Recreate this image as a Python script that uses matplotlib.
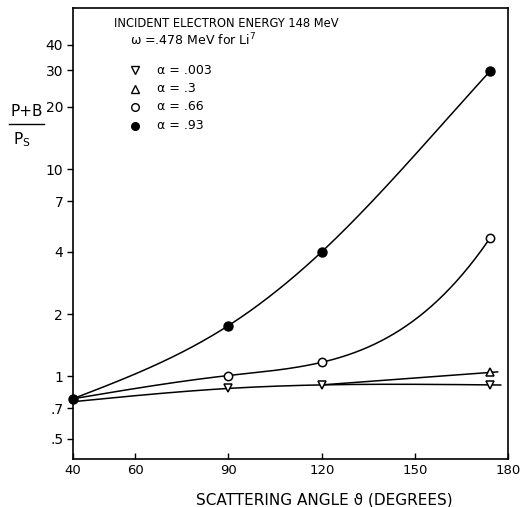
import numpy as np
import matplotlib
matplotlib.use("Agg")
import matplotlib.pyplot as plt
from matplotlib.lines import Line2D

# ---- data ----
angles = [40, 90, 120, 174]
ratio_a003 = [0.755, 0.875, 0.91, 0.91]
angles_a03 = [120, 174]
ratio_a03 = [0.91, 1.045]
ratio_a066 = [0.78, 1.01, 1.17, 4.64]
ratio_a093 = [0.78, 1.76, 4.0, 29.7]

x_ticks = [40, 60, 90, 120, 150, 180]
y_ticks = [0.5, 0.7, 1, 2, 4, 7, 10, 20, 30, 40]
y_tick_labels = [".5", ".7", "1", "2", "4", "7", "10", "20", "30", "40"]
legend_labels = ["α = .003", "α = .3", "α = .66", "α = .93"]


def spline(xk, yk, xe, end_slope=None):
    """Cubic spline; natural at the left, natural or clamped at the right."""
    xk = np.asarray(xk, float)
    yk = np.asarray(yk, float)
    n = len(xk)
    if n == 2:
        s = (yk[1] - yk[0]) / (xk[1] - xk[0])
        return yk[0] + s * (np.asarray(xe) - xk[0])
    h = np.diff(xk)
    A = np.zeros((n, n))
    r = np.zeros(n)
    A[0, 0] = 1
    for i in range(1, n - 1):
        A[i, i - 1] = h[i - 1]
        A[i, i] = 2 * (h[i - 1] + h[i])
        A[i, i + 1] = h[i]
        r[i] = 3 * ((yk[i + 1] - yk[i]) / h[i] - (yk[i] - yk[i - 1]) / h[i - 1])
    if end_slope is None:
        A[-1, -1] = 1
    else:
        A[-1, -2] = h[-1]
        A[-1, -1] = 2 * h[-1]
        r[-1] = 3 * (end_slope - (yk[-1] - yk[-2]) / h[-1])
    c = np.linalg.solve(A, r)
    b = np.zeros(n - 1)
    d = np.zeros(n - 1)
    for i in range(n - 1):
        b[i] = (yk[i + 1] - yk[i]) / h[i] - h[i] * (2 * c[i] + c[i + 1]) / 3
        d[i] = (c[i + 1] - c[i]) / (3 * h[i])
    out = []
    for x in np.asarray(xe, float):
        if x >= xk[-1]:
            i = n - 2
            t = h[i]
            slope = b[i] + 2 * c[i] * t + 3 * d[i] * t * t
            out.append(yk[-1] + slope * (x - xk[-1]))
            continue
        i = min(max(np.searchsorted(xk, x) - 1, 0), n - 2)
        t = x - xk[i]
        out.append(yk[i] + b[i] * t + c[i] * t * t + d[i] * t ** 3)
    return np.array(out)


def smooth(xk, yk, x_end=None, end_slope=None):
    x1 = xk[-1] if x_end is None else x_end
    xe = np.linspace(xk[0], x1, 400)
    ye = 10 ** spline(xk, np.log10(yk), xe, end_slope)
    return xe, ye


fig = plt.figure(figsize=(5.21, 5.07), dpi=100)
ax = fig.add_axes([0.140, 0.095, 0.836, 0.889])
ax.set_yscale("log")
ax.set_xlim(40, 180)
ax.set_ylim(0.40, 60)

lw = 1.1
xe, ye = smooth(angles, ratio_a003, x_end=177.5)
ax.plot(xe, ye, color="black", lw=lw)
xe, ye = smooth(angles_a03, ratio_a03, x_end=176.5)
ax.plot(xe, ye, color="black", lw=lw)
xe, ye = smooth(angles, ratio_a066, end_slope=0.022)
ax.plot(xe, ye, color="black", lw=lw)
xe, ye = smooth(angles, ratio_a093, end_slope=0.0165)
ax.plot(xe, ye, color="black", lw=lw)

ax.plot(angles[1:], ratio_a003[1:], ls="none", marker="v", ms=6,
        mfc="white", mec="black", mew=1.1, clip_on=False)
ax.plot(angles_a03[1:], ratio_a03[1:], ls="none", marker="^", ms=6,
        mfc="white", mec="black", mew=1.1, clip_on=False)
ax.plot(angles[1:], ratio_a066[1:], ls="none", marker="o", ms=6,
        mfc="white", mec="black", mew=1.1, clip_on=False)
ax.plot(angles, ratio_a093, ls="none", marker="o", ms=6.5,
        mfc="black", mec="black", clip_on=False)

ax.set_xticks(x_ticks)
ax.set_xticklabels([str(v) for v in x_ticks])
ax.set_yticks(y_ticks)
ax.set_yticklabels(y_tick_labels)
ax.minorticks_off()
ax.tick_params(axis="x", direction="in", length=4, width=1, pad=4, labelsize=9.5)
ax.tick_params(axis="y", direction="out", length=4, width=1, pad=3, labelsize=10)
for s in ax.spines.values():
    s.set_linewidth(1.2)

# header texts
ax.text(0.094, 0.965, "INCIDENT ELECTRON ENERGY 148 MeV", transform=ax.transAxes,
        fontsize=8.3, va="center", ha="left")
ax.text(0.130, 0.930, "ω =.478 MeV for Li$^7$", transform=ax.transAxes,
        fontsize=9, va="center", ha="left")

# legend (manual)
leg_markers = [("v", "white"), ("^", "white"), ("o", "white"), ("o", "black")]
leg_y = [70, 89, 107, 126]
for (m, fc), py, lab in zip(leg_markers, leg_y, legend_labels):
    yf = 1 - py / 507
    fig.lines.append(Line2D([135 / 521], [yf], transform=fig.transFigure,
                            marker=m, ms=5.5, mfc=fc, mec="black", mew=1.0, ls="none"))
    fig.text(157 / 521, yf, lab, fontsize=9, va="center", ha="left")

# y label as a fraction
fig.text(27 / 521, 1 - 111 / 507, "P+B", fontsize=11, ha="center", va="center")
fig.lines.append(Line2D([9 / 521, 44 / 521], [1 - 124 / 507, 1 - 124 / 507],
                        transform=fig.transFigure, color="black", lw=1.0))
fig.text(22 / 521, 1 - 140 / 507, "P$_{\\mathregular{S}}$", fontsize=11, ha="center", va="center")

# x label
fig.text(324 / 521, 1 - 500 / 507, "SCATTERING ANGLE ϑ (DEGREES)", fontsize=11,
         ha="center", va="center")

fig.savefig("out.png", dpi=100)
